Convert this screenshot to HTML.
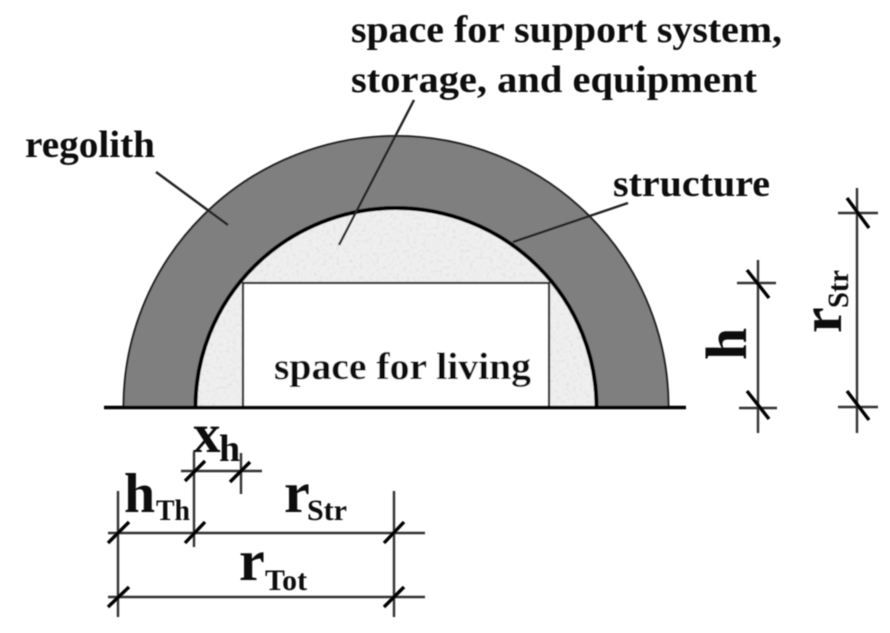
<!DOCTYPE html>
<html>
<head>
<meta charset="utf-8">
<style>
html,body{margin:0;padding:0;background:#fff;width:890px;height:633px;overflow:hidden}
svg{display:block}
text{font-family:"Liberation Serif",serif;font-weight:bold;fill:#111}
</style>
</head>
<body>
<svg width="890" height="633" viewBox="0 0 890 633" xmlns="http://www.w3.org/2000/svg">
<defs>
<filter id="speck" x="0" y="0" width="100%" height="100%">
<feTurbulence type="fractalNoise" baseFrequency="0.3" numOctaves="2" seed="4" result="n"/>
<feColorMatrix in="n" type="matrix" values="0 0 0 0 0.68  0 0 0 0 0.68  0 0 0 0 0.68  1.6 0 0 0 -0.76"/>
<feComposite in2="SourceGraphic" operator="in" result="s"/>
<feMerge><feMergeNode in="SourceGraphic"/><feMergeNode in="s"/></feMerge>
</filter>
<filter id="soft" x="-5%" y="-5%" width="110%" height="110%"><feGaussianBlur stdDeviation="0.55"/></filter>
</defs>
<g filter="url(#soft)">
<!-- regolith -->
<path d="M123.500 407 A272.500 271 0 0 1 668.500 407 Z" fill="#7f7f7f" stroke="#222" stroke-width="2"/>
<!-- interior -->
<path d="M195.500 407 A200.500 199 0 0 1 596.500 407 Z" fill="#efefef" filter="url(#speck)"/>
<path d="M195.500 407 A200.500 199 0 0 1 596.500 407" fill="none" stroke="#000" stroke-width="4"/>
<!-- living -->
<rect x="243" y="283" width="306" height="124" fill="#fff" stroke="#222" stroke-width="2.200"/>
<!-- ground -->
<line x1="104" y1="407.500" x2="686" y2="407.500" stroke="#000" stroke-width="3.500"/>
<!-- leaders -->
<g stroke="#222" stroke-width="2.400" fill="none">
<line x1="156" y1="172" x2="228" y2="225"/>
<line x1="414" y1="100" x2="339" y2="245"/>
<line x1="628" y1="203" x2="513" y2="242"/>
</g>
<!-- bottom dimensions -->
<g stroke="#333" stroke-width="2.400" fill="none">
<line x1="108" y1="533" x2="425" y2="533"/>
<line x1="108" y1="597" x2="425" y2="597"/>
<line x1="181" y1="471" x2="262" y2="471"/>
<line x1="118" y1="491" x2="118" y2="617"/>
<line x1="194" y1="452" x2="194" y2="547"/>
<line x1="394" y1="491" x2="394" y2="617"/>
<line x1="241" y1="453" x2="241" y2="494"/>
<!-- right dimensions -->
<line x1="758" y1="260" x2="758" y2="433"/>
<line x1="737" y1="283" x2="776" y2="283"/>
<line x1="739" y1="408" x2="777" y2="408"/>
<line x1="857" y1="188" x2="857" y2="433"/>
<line x1="838" y1="213" x2="878" y2="213"/>
<line x1="838" y1="407" x2="878" y2="407"/>
</g>
<!-- ticks -->
<g stroke="#000" stroke-width="3.400" fill="none">
<line x1="108" y1="543" x2="129" y2="522"/>
<line x1="185" y1="543" x2="205" y2="522"/>
<line x1="384" y1="543" x2="404" y2="522"/>
<line x1="108" y1="607" x2="129" y2="587"/>
<line x1="384" y1="607" x2="404" y2="587"/>
<line x1="185" y1="481" x2="205" y2="461"/>
<line x1="230" y1="482" x2="250" y2="462"/>
<line x1="747" y1="270" x2="769" y2="298"/>
<line x1="747" y1="391" x2="769" y2="419"/>
<line x1="847" y1="198" x2="869" y2="228"/>
<line x1="847" y1="391" x2="869" y2="420"/>
</g>
<!-- labels -->
<text x="351" y="42" font-size="38" textLength="431" lengthAdjust="spacingAndGlyphs">space for support system,</text>
<text x="351" y="92" font-size="38" textLength="406" lengthAdjust="spacingAndGlyphs">storage, and equipment</text>
<text x="25" y="157" font-size="38" textLength="130" lengthAdjust="spacingAndGlyphs">regolith</text>
<text x="613" y="196" font-size="38" textLength="157" lengthAdjust="spacingAndGlyphs">structure</text>
<text x="274" y="379" font-size="38" textLength="257" lengthAdjust="spacingAndGlyphs">space for living</text>
<!-- dimension labels -->
<text x="193" y="452" font-size="55">x</text>
<text x="219" y="461" font-size="38">h</text>
<text x="124" y="512" font-size="56">h</text>
<text x="156" y="520" font-size="30" textLength="34" lengthAdjust="spacingAndGlyphs">Th</text>
<text x="284" y="512" font-size="58">r</text>
<text x="307" y="520" font-size="30" textLength="40" lengthAdjust="spacingAndGlyphs">Str</text>
<text x="239" y="580" font-size="58">r</text>
<text x="265" y="590" font-size="30" textLength="42" lengthAdjust="spacingAndGlyphs">Tot</text>
<text transform="translate(746 360) rotate(-90)" font-size="58">h</text>
<text transform="translate(841 333) rotate(-90)" font-size="58">r</text>
<text transform="translate(848 308) rotate(-90)" font-size="30" textLength="38" lengthAdjust="spacingAndGlyphs">Str</text>
</g>
</svg>
</body>
</html>
